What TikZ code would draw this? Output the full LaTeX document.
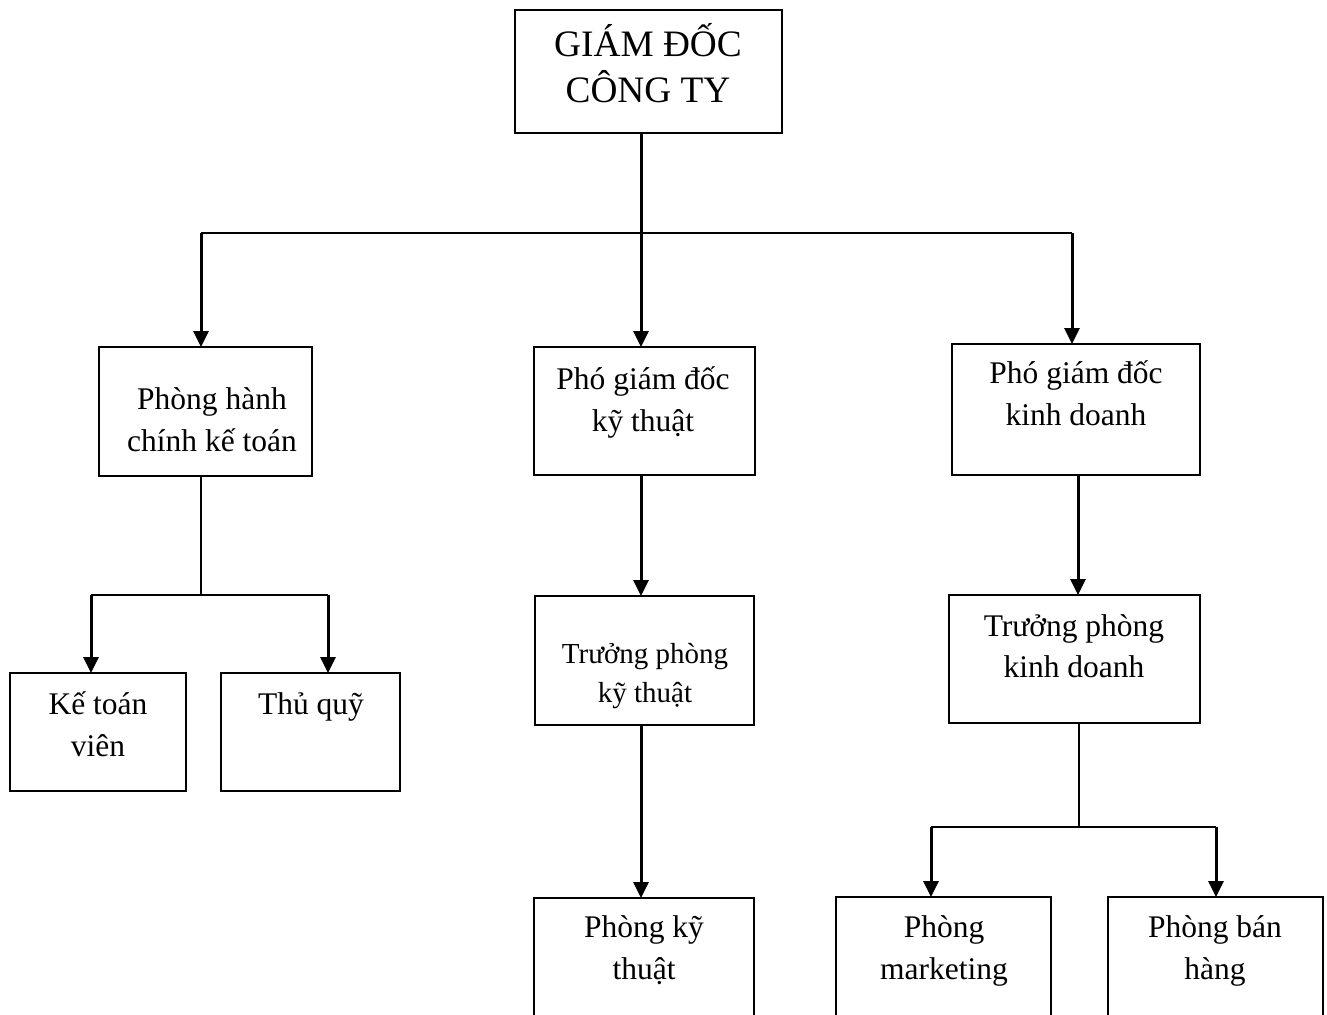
\documentclass[tikz,border=0pt]{standalone}
\usepackage{fontspec}
\setmainfont{Liberation Serif}
\usetikzlibrary{arrows.meta}
% two centred lines with a fixed distance between their baselines
\newcommand\twoline[3]{\vtop{\baselineskip=#1\lineskiplimit=-\maxdimen
  \halign{\hfil##\hfil\cr#2\cr#3\cr}}}
\tikzset{
  box/.style={draw, line width=2pt, inner sep=0pt, outer sep=0pt},
  lbl/.style={inner sep=0pt, anchor=base, font=\fontsize{31.5}{42}\selectfont},
  arr/.style={line width=3pt, -{Triangle[length=16pt,width=15pt]}},
  bar/.style={line width=1.8pt},
  stem/.style={line width=3pt},
}
\begin{document}
\begin{tikzpicture}[x=1pt,y=-1pt]
\useasboundingbox (0,0) rectangle (1327,1014);
\fill[white] (0,0) rectangle (1327,1014);
\clip (0,0) rectangle (1327,1014);

% boxes
\node[box, minimum width=267pt, minimum height=123pt] (top) at (648.5,71.5) {};
\node[box, minimum width=213pt, minimum height=129pt] (b1) at (205.5,411.5) {};
\node[box, minimum width=221pt, minimum height=128pt] (b2) at (644.5,411) {};
\node[box, minimum width=248pt, minimum height=131pt] (b3) at (1076,409.5) {};
\node[box, minimum width=219pt, minimum height=129pt] (tk) at (644.5,660.5) {};
\node[box, minimum width=251pt, minimum height=128pt] (tkd) at (1074.5,659) {};
\node[box, minimum width=176pt, minimum height=118pt] (ktv) at (98,732) {};
\node[box, minimum width=179pt, minimum height=118pt] (tq) at (310.5,732) {};
\node[box, minimum width=220pt, minimum height=142pt] (pkt) at (644,969) {};
\node[box, minimum width=215pt, minimum height=143pt] (pmk) at (943.5,968.5) {};
\node[box, minimum width=215pt, minimum height=143pt] (pbh) at (1215.5,968.5) {};

% labels
\node[lbl, font=\fontsize{37.3}{45}\selectfont] (t0) at (648,57) {\twoline{45.5pt}{GIÁM ĐỐC}{CÔNG TY}};
\node[lbl] (t1) at (212,409) {\twoline{42pt}{Phòng hành}{chính kế toán}};
\node[lbl] (t2) at (643,389) {\twoline{42pt}{Phó giám đốc}{kỹ thuật}};
\node[lbl] (t3) at (1076,383) {\twoline{42pt}{Phó giám đốc}{kinh doanh}};
\node[lbl, font=\fontsize{29}{39}\selectfont] (t4) at (645,663) {\twoline{39pt}{Trưởng phòng}{kỹ thuật}};
\node[lbl] (t5) at (1074,636) {\twoline{41pt}{Trưởng phòng}{kinh doanh}};
\node[lbl] (t6) at (98,714) {\twoline{42pt}{Kế toán}{viên}};
\node[lbl] (t7) at (311,714) {Thủ quỹ};
\node[lbl] (t8) at (644,937) {\twoline{42pt}{Phòng kỹ}{thuật}};
\node[lbl] (t9) at (944,937) {\twoline{42pt}{Phòng}{marketing}};
\node[lbl] (t10) at (1215,937) {\twoline{42pt}{Phòng bán}{hàng}};

% junction points
\coordinate (busT) at (641,233);
\coordinate (busTL) at (201,233);
\coordinate (busTR) at (1072,233);
\coordinate (busA) at (201,595);
\coordinate (busAL) at (91,595);
\coordinate (busAR) at (328,595);
\coordinate (colD) at (1078,500);
\coordinate (busB) at (1079,827);
\coordinate (busBL) at (931,827);
\coordinate (busBR) at (1216,827);

% director to the three departments
\draw[stem] (top.south -| busT) -- (busT);
\draw[bar] (busTL) -- (busTR);
\draw[arr] (busTL) -- (busTL |- b1.north);
\draw[arr] (busT) -- (busT |- b2.north);
\draw[arr] (busTR) -- (busTR |- b3.north);

% administration and accounting
\draw[bar] (b1.south -| busA) -- (busA);
\draw[bar] (busAL) -- (busAR);
\draw[arr] (busAL) -- (busAL |- ktv.north);
\draw[arr] (busAR) -- (busAR |- tq.north);

% technical branch
\draw[arr] (b2.south -| busT) -- (busT |- tk.north);
\draw[arr] (tk.south -| busT) -- (busT |- pkt.north);

% business branch
\draw[arr] (b3.south -| colD) -- (colD |- tkd.north);
\draw[bar] (tkd.south -| busB) -- (busB);
\draw[bar] (busBL) -- (busBR);
\draw[arr] (busBL) -- (busBL |- pmk.north);
\draw[arr] (busBR) -- (busBR |- pbh.north);
\end{tikzpicture}
\end{document}
